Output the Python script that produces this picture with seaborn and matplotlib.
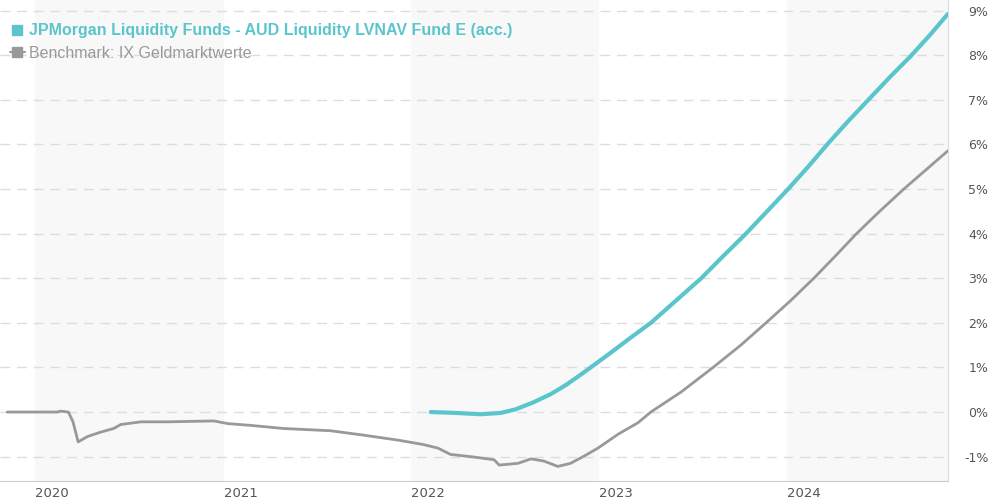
import pandas as pd
import numpy as np
import matplotlib
matplotlib.use("Agg")
import matplotlib.pyplot as plt
from matplotlib.lines import Line2D
import seaborn as sns

# benchmark (IX Geldmarktwerte), cumulative performance in %
bench_dates = ["2019-11-07", "2020-02-13", "2020-02-18", "2020-03-05", "2020-03-14",
               "2020-03-24", "2020-04-11", "2020-05-07", "2020-06-01", "2020-06-15",
               "2020-07-24", "2020-09-15", "2020-12-13", "2021-01-09", "2021-02-23",
               "2021-04-28", "2021-07-28", "2021-10-01", "2021-12-06", "2022-01-25",
               "2022-02-22", "2022-03-18", "2022-05-03", "2022-06-11", "2022-06-21",
               "2022-07-28", "2022-08-22", "2022-09-16", "2022-10-13", "2022-11-07",
               "2022-12-06", "2022-12-30", "2023-02-07", "2023-03-18", "2023-04-12",
               "2023-06-10", "2023-08-11", "2023-10-04", "2023-11-22", "2024-01-09",
               "2024-02-23", "2024-04-05", "2024-05-16", "2024-06-30", "2024-08-16",
               "2024-09-30", "2024-11-10"]
bench_vals = [0.0, 0.0, 0.02, 0.0, -0.22,
              -0.67, -0.55, -0.45, -0.37, -0.28,
              -0.22, -0.22, -0.20, -0.26, -0.30,
              -0.37, -0.42, -0.52, -0.63, -0.73,
              -0.81, -0.95, -1.01, -1.07, -1.19,
              -1.15, -1.05, -1.10, -1.22, -1.15,
              -0.97, -0.81, -0.50, -0.24, 0.0,
              0.45, 1.0, 1.5, 2.0, 2.5,
              3.0, 3.5, 4.0, 4.5, 5.0,
              5.45, 5.86]

# fund, cumulative performance in %
fund_dates = ["2022-02-08", "2022-03-28", "2022-05-16", "2022-06-24", "2022-07-23",
              "2022-08-27", "2022-09-29", "2022-10-28", "2022-11-22", "2022-12-16",
              "2023-01-24", "2023-03-04", "2023-04-12", "2023-05-31", "2023-07-19",
              "2023-08-31", "2023-10-14", "2023-11-24", "2024-01-04", "2024-02-12",
              "2024-03-20", "2024-04-28", "2024-06-08", "2024-07-19", "2024-08-31",
              "2024-10-07", "2024-11-10"]
fund_vals = [0.0, -0.02, -0.05, -0.02, 0.06,
             0.22, 0.40, 0.60, 0.80, 1.0,
             1.33, 1.67, 2.0, 2.5, 3.0,
             3.5, 4.0, 4.5, 5.0, 5.5,
             6.0, 6.5, 7.0, 7.5, 8.0,
             8.47, 8.93]

fund_name = "JPMorgan Liquidity Funds - AUD Liquidity LVNAV Fund E (acc.)"
bench_name = "Benchmark: IX Geldmarktwerte"
years = [2020, 2021, 2022, 2023, 2024]
yticks = list(range(-1, 10))

teal = "#5bc5cc"
grey = "#999999"

df = pd.concat([
    pd.DataFrame({"date": pd.to_datetime(bench_dates), "val": bench_vals, "series": bench_name}),
    pd.DataFrame({"date": pd.to_datetime(fund_dates), "val": fund_vals, "series": fund_name}),
])

sns.set_style("white")
plt.rcParams['font.family'] = ['DejaVu Sans']

fig = plt.figure(figsize=(9.9, 5), dpi=100)
ax = fig.add_axes([0, 19 / 500, 948 / 990, 481 / 500])

# shaded alternate years
for y in years[::2]:
    ax.axvspan(pd.Timestamp(f"{y}-01-01"), pd.Timestamp(f"{y + 1}-01-01"),
               color="#f8f8f8", zorder=0, lw=0)

for t in yticks:
    ax.axhline(t, color="#dddddd", lw=1, ls=(0, (7, 5)), zorder=1)

sns.lineplot(data=df[df.series == bench_name], x="date", y="val", color=grey,
             lw=2.0, ax=ax, zorder=3)
sns.lineplot(data=df[df.series == fund_name], x="date", y="val", color=teal,
             lw=3.0, ax=ax, zorder=4)

ax.set_xlim(pd.Timestamp("2019-10-24"), pd.Timestamp("2024-11-10"))
ax.set_ylim(-1.547, 9.24)
ax.set_xlabel("")
ax.set_ylabel("")

ax.set_xticks([pd.Timestamp(f"{y}-01-01") for y in years])
ax.set_xticklabels([str(y) for y in years], color="#555555", fontsize=9.5)
for lab in ax.get_xticklabels():
    lab.set_horizontalalignment("left")
ax.tick_params(axis="x", length=0, pad=4)

ax.yaxis.tick_right()
ax.set_yticks(yticks)
ax.set_yticklabels([f"{t}%" for t in yticks], color="#555555", fontsize=9)
for lab in ax.get_yticklabels():
    lab.set_horizontalalignment("right")
ax.tick_params(axis="y", length=0, pad=29)

for s in ["left", "top"]:
    ax.spines[s].set_visible(False)
ax.spines["bottom"].set_color("#cccccc")
ax.spines["right"].set_color("#dddddd")

handles = [Line2D([], [], color=teal, marker="s", ls="none", ms=7),
           Line2D([], [], color=grey, marker="s", lw=1.5, ms=7)]
leg = ax.legend(handles, [fund_name, bench_name], loc="upper left", frameon=False,
                handlelength=0.9, handletextpad=0.3,
                labelspacing=0.48, borderaxespad=0, bbox_to_anchor=(0.004, 0.965),
                prop={"family": "Liberation Sans", "size": 11.5})
t1, t2 = leg.get_texts()
t1.set_color(teal)
t1.set_fontweight("bold")
t2.set_color(grey)

fig.savefig("out.png", dpi=100)
